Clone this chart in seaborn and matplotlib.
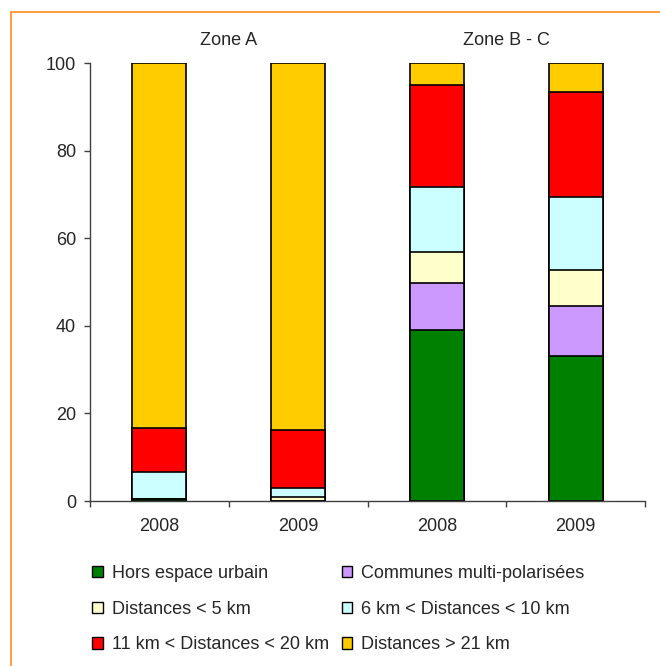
import matplotlib
matplotlib.use("Agg")
import matplotlib.pyplot as plt
from matplotlib.patches import Rectangle
import matplotlib.transforms as mtransforms
import seaborn as sns
import pandas as pd
import numpy as np

# ---- data ----
bar_ids = ["A-2008", "A-2009", "BC-2008", "BC-2009"]
year_labels = ["2008", "2009", "2008", "2009"]
zones = ["Zone A", "Zone B - C"]

series_names = ["Hors espace urbain", "Communes multi-polarisées",
                "Distances < 5 km", "6 km < Distances < 10 km",
                "11 km < Distances < 20 km", "Distances > 21 km"]
hors_espace = [0.4, 0.0, 39.0, 33.2]
communes_multi = [0.0, 0.0, 10.8, 11.3]
dist_lt5 = [0.0, 0.9, 7.0, 8.3]
dist_6_10 = [6.2, 2.0, 15.0, 16.5]
dist_11_20 = [10.1, 13.3, 23.2, 24.1]
dist_gt21 = [83.3, 83.8, 5.0, 6.6]

colors = ["#008000", "#CC99FF", "#FFFFCC", "#CCFFFF", "#FF0000", "#FFCC00"]

series = [hors_espace, communes_multi, dist_lt5, dist_6_10, dist_11_20, dist_gt21]

sns.set_style("white")
plt.rcParams["font.family"] = ["Liberation Sans", "DejaVu Sans"]
FS = 13

fig = plt.figure(figsize=(6.6, 6.66), dpi=100)
ax = fig.add_axes([90/660, 165/666, 555/660, 438/666])

# cumulative tops, drawn from the top series down so lower segments overlay
cum = np.cumsum(np.array(series), axis=0)
for i in range(len(series) - 1, -1, -1):
    df = pd.DataFrame({"bar": bar_ids, "top": cum[i]})
    sns.barplot(data=df, x="bar", y="top", order=bar_ids, color=colors[i],
                saturation=1, width=0.39, edgecolor="black", linewidth=1.2,
                ax=ax)

ax.set_xlim(-0.5, 3.5)
ax.set_ylim(0, 100)
ax.set_yticks([0, 20, 40, 60, 80, 100])
ax.set_xlabel("")
ax.set_ylabel("")
ax.set_xticks(range(4))
ax.set_xticklabels(year_labels)
ax.set_xticks([-0.5, 0.5, 1.5, 2.5, 3.5], minor=True)
ax.tick_params(axis="x", which="major", length=0, pad=12, labelsize=FS)
ax.tick_params(axis="x", which="minor", length=4, width=1, color="#404040",
               direction="out", bottom=True)
ax.tick_params(axis="y", length=4, width=1, color="#404040", direction="out",
               left=True, pad=6, labelsize=FS)
for s in ["top", "right"]:
    ax.spines[s].set_visible(False)
for s in ["left", "bottom"]:
    ax.spines[s].set_color("#404040")
    ax.spines[s].set_linewidth(1)

# zone labels
trans = mtransforms.blended_transform_factory(ax.transData, ax.transAxes)
ax.text(0.5, 1.0525, zones[0], transform=trans, ha="center", va="center",
        fontsize=FS)
ax.text(2.5, 1.0525, zones[1], transform=trans, ha="center", va="center",
        fontsize=FS)

# orange frame
fig.patches.append(Rectangle((11/660, -0.01), 1.0, (666-12)/666 + 0.01,
                             transform=fig.transFigure, fill=False,
                             edgecolor="#FF8C1A", linewidth=1.2))

# legend (row-wise order)
handles = [Rectangle((0, 0), 1, 1, facecolor=c, edgecolor="black", linewidth=1)
           for c in colors]
order = [0, 2, 4, 1, 3, 5]
fig.legend([handles[i] for i in order], [series_names[i] for i in order],
           ncol=2, loc="upper left", bbox_to_anchor=(92/660, 1 - 565/666),
           frameon=False, fontsize=FS, handlelength=0.6, handleheight=0.6,
           handletextpad=0.5, columnspacing=0.7, labelspacing=1.03,
           borderaxespad=0, borderpad=0)

fig.savefig("out.png", dpi=100)
